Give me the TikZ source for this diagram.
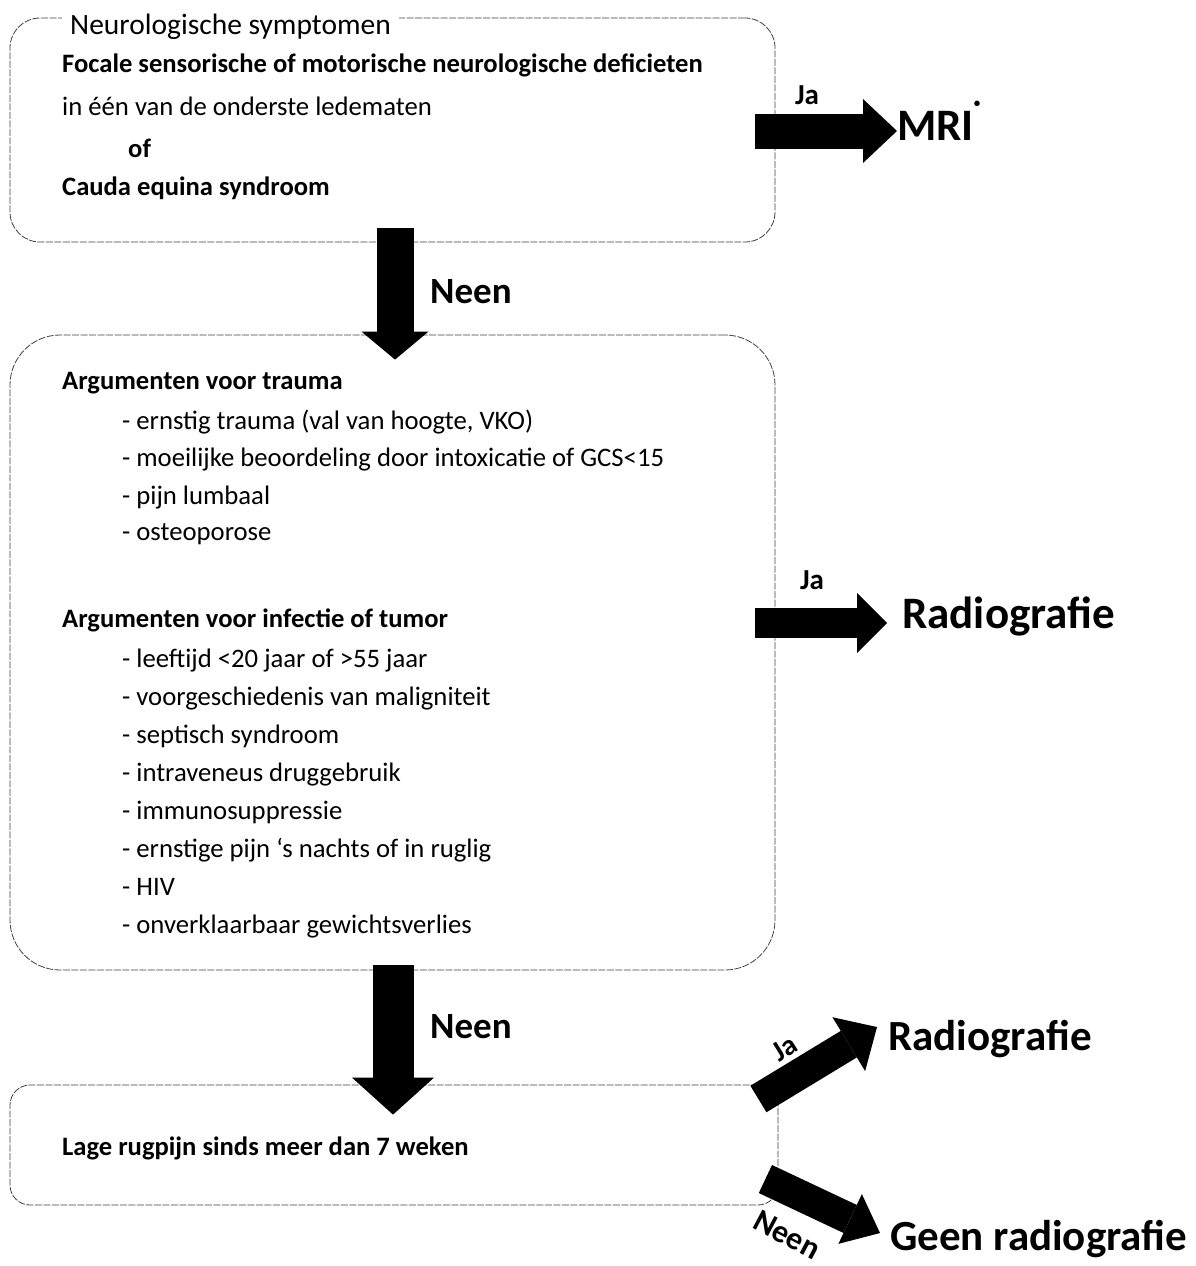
\documentclass[tikz,border=0pt]{standalone}
\usepackage{fontspec}
\setmainfont{Carlito}
\usetikzlibrary{arrows.meta,calc}

\tikzset{
  box/.style={draw=black!75, line width=0.8pt, dash pattern=on 7pt off 1.5pt},
  txt/.style={inner sep=0pt, anchor=base west, font=\fontsize{26.7}{30}\selectfont},
  btxt/.style={txt, font=\fontsize{26.6}{30}\selectfont\bfseries},
  lbl/.style={inner sep=0pt, font=\fontsize{37}{40}\selectfont\bfseries},
  ja/.style={inner sep=0pt, font=\fontsize{29}{30}\selectfont\bfseries},
  uit/.style={inner sep=0pt, anchor=base west, font=\fontsize{45}{48}\selectfont\bfseries},
  fat/.style n args={3}{line width=#1, -{Triangle[width=#2, length=#3, line width=0pt]}}
}

\begin{document}
\begin{tikzpicture}[x=1pt,y=-1pt]
\useasboundingbox (0,0) rectangle (1195,1266);
% kaders
\node[box, minimum width=765pt, minimum height=224pt, rounded corners=30pt] (neuro) at (392.5,130) {};
\node[box, minimum width=765pt, minimum height=635pt, rounded corners=50pt] (args) at (392.5,652.5) {};
\node[box, minimum width=768pt, minimum height=120pt, rounded corners=20pt] (rug) at (394,1145) {};
\node[txt, fill=white, inner xsep=8pt, font=\fontsize{29.5}{30}\selectfont] (titel) at (62,34) {Neurologische symptomen};

% neurologische symptomen
\node[btxt] (focaal) at (62,72) {Focale sensorische of motorische neurologische deficieten};
\node[txt] (ledematen) at (62,115) {in één van de onderste ledematen};
\node[btxt] (of) at (128,157) {of};
\node[btxt] (cauda) at (62,195) {Cauda equina syndroom};

% argumenten
\node[btxt] (trauma) at (62,389) {Argumenten voor trauma};
\node[txt] (t1) at (122,429) {- ernstig trauma (val van hoogte, VKO)};
\node[txt] (t2) at (122,466) {- moeilijke beoordeling door intoxicatie of GCS<15};
\node[txt] (t3) at (122,504) {- pijn lumbaal};
\node[txt] (t4) at (122,540) {- osteoporose};
\node[btxt] (infectie) at (62,627) {Argumenten voor infectie of tumor};
\node[txt] (i1) at (122,667) {- leeftijd <20 jaar of >55 jaar};
\node[txt] (i2) at (122,705) {- voorgeschiedenis van maligniteit};
\node[txt] (i3) at (122,743) {- septisch syndroom};
\node[txt] (i4) at (122,781) {- intraveneus druggebruik};
\node[txt] (i5) at (122,819) {- immunosuppressie};
\node[txt] (i6) at (122,857) {- ernstige pijn ‘s nachts of in ruglig};
\node[txt] (i7) at (122,895) {- HIV};
\node[txt] (i8) at (122,933) {- onverklaarbaar gewichtsverlies};

% lage rugpijn
\node[btxt] (lage) at (62,1155) {Lage rugpijn sinds meer dan 7 weken};

% uitkomsten
\node[uit] (mri) at (897,140) {MRI\raisebox{33pt}{\fontsize{13}{13}\selectfont\textbullet}};
\node[uit] (radio1) at (902,628) {Radiografie};
\node[uit, font=\fontsize{43}{46}\selectfont\bfseries] (radio2) at (888,1050) {Radiografie};
\node[uit, font=\fontsize{43}{46}\selectfont\bfseries] (geen) at (890,1250) {Geen radiografie};

% pijlen naar beneden
\draw[fat={37pt}{67pt}{28pt}] ($(neuro.south)+(2.5,-14)$) -- ($(args.north)+(2.5,25)$);
\node[lbl, anchor=base west] (neen1) at (430,303) {Neen};
\draw[fat={41pt}{82pt}{37pt}] ($(args.south)+(0.5,-5)$) -- ($(rug.north)+(-1,30)$);
\node[lbl, anchor=base west] (neen2) at (430,1038) {Neen};

% pijlen naar rechts
\coordinate (mriuit) at ($(neuro.east)+(-20,1)$);
\draw[fat={35pt}{64pt}{34pt}] (mriuit) -- (mriuit -| mri.west);
\node[ja] (ja1) at (807,95) {Ja};
\coordinate (radiouit) at ($(args.east)+(-20,-29.5)$);
\draw[fat={30pt}{60pt}{30pt}] (radiouit) -- ($(radiouit -| radio1.west)+(-15,0)$);
\node[ja] (ja2) at (812,580) {Ja};

% schuine pijlen
\coordinate (jauit) at ($(rug.east)+(-20,-46)$);
\draw[fat={31pt}{63pt}{33pt}] (jauit) -- ($(radio2.west)+(-11,-11.5)$);
\node[ja, rotate=32] (ja3) at (785,1048) {Ja};
\coordinate (neenuit) at ($(rug.east)+(-13,34)$);
\draw[fat={31pt}{55pt}{33pt}] (neenuit) -- ($(geen.west)+(-10,-5.5)$);
\node[lbl, rotate=-28, font=\fontsize{32}{34}\selectfont\bfseries] (neen3) at (787,1235) {Neen};
\end{tikzpicture}
\end{document}
